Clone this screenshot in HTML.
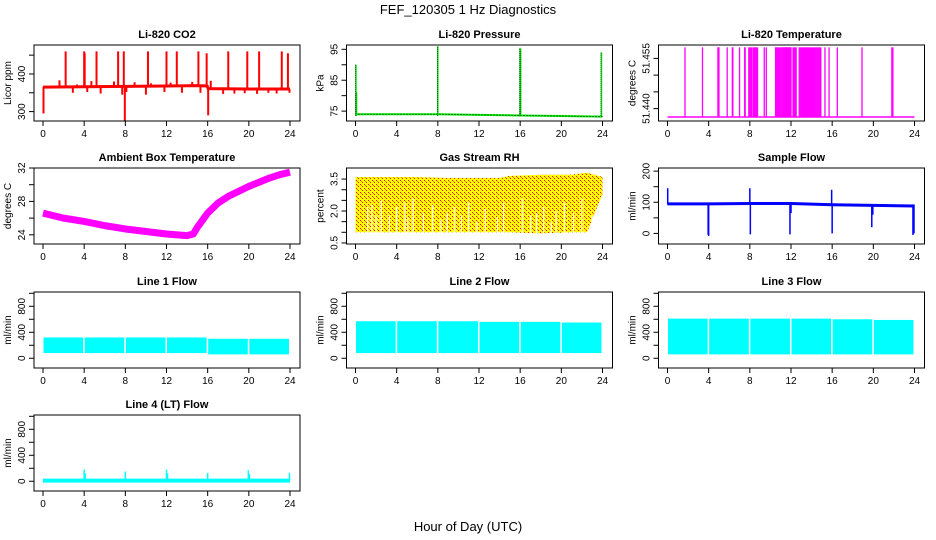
<!DOCTYPE html>
<html><head><meta charset="utf-8">
<style>
html,body{margin:0;padding:0;background:#fff;}
svg{display:block;font-family:"Liberation Sans",sans-serif;}
</style></head>
<body>
<svg id="chart" width="936" height="540" viewBox="0 0 936 540" xmlns="http://www.w3.org/2000/svg">
<defs>
<pattern id="rhpat" width="4" height="4" patternUnits="userSpaceOnUse">
<rect width="4" height="4" fill="#ffff00"/>
<rect x="0" y="0" width="1" height="1" fill="#ff0000"/>
<rect x="2" y="2" width="1" height="1" fill="#ff0000"/>
<rect x="1" y="1" width="1" height="1" fill="#e08000"/>
</pattern>
</defs>
<text x="468" y="14" text-anchor="middle" font-size="13">FEF_120305  1 Hz Diagnostics</text>
<text x="468" y="531" text-anchor="middle" font-size="13">Hour of Day (UTC)</text>
</svg>
<script>
// ---- data arrays ----
const xTicks=[0,4,8,12,16,20,24];
const co2BaseHours=[0,4,8,12,15,15.95,16.05,20,24];
const co2BaseVals=[365,366,367,368,369,368,361,360,360];
const co2SpikeHours=[0.05,2.2,4.0,4.05,5.2,7.3,7.85,7.95,10.2,12.0,13.0,15.1,15.9,16.05,18.0,19.85,21.0,23.2,23.8,1.6,2.9,3.3,4.3,4.7,5.6,6.9,7.7,8.1,8.9,10.0,10.5,11.8,12.4,13.5,14.5,15.3,16.3,17.5,18.6,19.6,20.8,21.9,22.7,23.95];
const co2SpikeVals=[295,460,460,455,460,460,460,275,460,460,460,460,455,290,460,460,460,460,455,383,350,372,352,381,348,380,345,352,378,345,375,352,377,350,379,350,382,347,348,349,347,350,348,350];
const presBaseHours=[0,4,8,12,16,20,24];
const presBaseVals=[74.0,74.0,74.0,73.8,73.6,73.4,73.2];
const presSpikeHours=[0.05,0.1,8.0,16.0,16.05,23.9];
const presSpikeVals=[90,81,96,95.5,95,94];
const tempLow=51.4375, tempHigh=51.4583;
const tempSpikeHours=[1.7,3.4,4.9,4.95,5.0,5.8,6.3,6.35,7.0,7.5,7.55,7.9,8.0,8.1,8.2,8.35,8.45,8.55,8.65,8.75,9.4,9.6,10.5,10.55,10.6,10.7,10.8,10.9,11.0,11.1,11.2,11.25,11.3,11.35,11.4,11.45,11.5,11.55,11.6,11.65,11.7,11.75,11.8,11.85,11.9,11.95,12.0,12.2,12.3,12.4,12.5,12.8,12.9,13.0,13.05,13.1,13.2,13.3,13.35,13.4,13.5,13.6,13.65,13.7,13.8,13.9,14.0,14.1,14.2,14.3,14.4,14.5,14.6,14.7,14.8,14.9,15.3,15.7,16.5,18.9,21.8,21.9];
const ambHours=[0,2,4,6,8,10,12,14,14.6,15,16,17,18,19,20,21,22,23,24];
const ambVals=[26.6,26.0,25.6,25.1,24.7,24.4,24.1,23.9,24.1,24.9,26.6,27.8,28.6,29.2,29.8,30.3,30.8,31.2,31.5];
const rhHours=[0,3,6,9,12,14,15,18,21,22.5,24];
const rhTop=[3.6,3.6,3.6,3.55,3.55,3.55,3.65,3.7,3.7,3.8,3.6];
const rhBottom=[1.0,1.0,1.0,1.0,1.0,1.0,1.0,0.95,1.0,1.0,2.8];
const rhGapHours=[1.2,1.6,2.0,2.5,3.3,4.0,4.8,5.1,5.6,6.6,7.5,8.3,8.9,9.6,10.3,11.0,11.8,12.6,13.8,14.4,16.2,17.0,17.6,18.3,19.0,19.5,20.3,21.2,22.0,23.0];
const rhGapTops=[2.2,2.3,1.8,2.5,1.8,2.2,2.4,1.7,2.6,1.9,2.3,1.6,1.9,2.2,1.8,2.4,1.5,2.1,1.7,2.4,2.6,1.8,1.9,2.2,1.5,2.0,2.4,1.9,2.6,1.8];
const sfBaseHours=[0,4,8,12,16,20,24];
const sfBaseVals=[95,95,96,96,92,90,88];
const sfSpikeHours=[0.02,3.95,4.0,8.0,8.05,11.9,12.0,15.95,16.0,19.85,19.95,23.85,23.95];
const sfSpikeVals=[145,-5,-8,145,-3,-3,65,140,0,20,60,-5,0];
const flowGapHours=[4,8,12,16,20];
const l1Top=[320,320,320,320,300,300];
const l1Bottom=[80,80,80,80,60,60];
const l2Top=[570,570,570,560,560,550];
const l2Bottom=[80,80,80,80,80,80];
const l3Top=[610,610,610,610,600,590];
const l3Bottom=[60,60,60,60,60,60];
const flowSegHours=[0,4,8,12,16,20,24];
const l4Base=10;
const l4SpikeHours=[4.0,4.1,8.0,12.0,12.1,16.0,19.95,20.05,23.95];
const l4SpikeVals=[180,120,150,180,120,130,170,110,130];

// ---- layout ----
const svg=document.getElementById('chart');
const NS='http://www.w3.org/2000/svg';
const colX0=[43,355.5,667.5];
const rowTop=[45,168,292,415];
const boxH=76;
function el(tag,attrs,parent){const e=document.createElementNS(NS,tag);for(const k in attrs)e.setAttribute(k,attrs[k]);(parent||svg).appendChild(e);return e;}

function makePanel(name,col,row,title,ylab,ylim,ticks,labels){
  const g=el('g',{});
  
  
  const x0=colX0[col],top=rowTop[row],bot=top+boxH,left=x0-9,right=x0+257;
  const sx=h=>x0+h*(247/24);
  const sy=v=>bot-(v-ylim[0])/(ylim[1]-ylim[0])*boxH;
  const plot=el('g',{},g);
  
  
  const box=el('rect',{x:left,y:top,width:right-left,height:boxH,fill:'none',stroke:'#000','stroke-width':1},g);
  
  
  const t=el('text',{x:(left+right)/2,y:top-7,'text-anchor':'middle','font-size':11,'font-weight':'bold'},g);
  t.textContent=title;
  
  
  const xa=el('g',{},g);
  
  
  el('line',{x1:sx(0),x2:sx(24),y1:bot,y2:bot,stroke:'#000'},xa);
  xTicks.forEach(h=>{
    el('line',{x1:sx(h),x2:sx(h),y1:bot,y2:bot+5,stroke:'#000'},xa);
    const l=el('text',{x:sx(h),y:bot+16,'text-anchor':'middle','font-size':10},xa);
    l.textContent=h;
    
    
  });
  const ya=el('g',{},g);
  
  
  el('line',{x1:left,x2:left,y1:sy(ticks[0]),y2:sy(ticks[ticks.length-1]),stroke:'#000'},ya);
  ticks.forEach(v=>{el('line',{x1:left-5,x2:left,y1:sy(v),y2:sy(v),stroke:'#000'},ya);});
  labels.forEach(v=>{
    const yy=sy(Number(v));
    const l=el('text',{x:left-9,y:yy,'text-anchor':'middle','font-size':10,transform:`rotate(-90 ${left-9} ${yy})`},ya);
    l.textContent=v;
    
    
  });
  const yt=el('text',{x:left-23,y:(top+bot)/2,'text-anchor':'middle','font-size':10,transform:`rotate(-90 ${left-23} ${(top+bot)/2})`},g);
  yt.textContent=ylab;
  
  
  return {g:plot,sx,sy};
}
function poly(p,hours,vals,attrs){
  return el('polyline',Object.assign({points:hours.map((h,i)=>p.sx(h)+','+p.sy(vals[i])).join(' '),fill:'none'},attrs),p.g);
}
function band(p,hours,top,bottom,fill){
  const pts=hours.map((h,i)=>p.sx(h)+','+p.sy(top[i])).concat(hours.slice().reverse().map((h,j)=>{const i=hours.length-1-j;return p.sx(h)+','+p.sy(bottom[i]);}));
  return el('polygon',{points:pts.join(' '),fill:fill,stroke:'none'},p.g);
}

// CO2
let p=makePanel('co2',0,0,'Li-820 CO2','Licor ppm',[275,477],[300,350,400,450],['300','400']);
let m=poly(p,co2BaseHours,co2BaseVals,{stroke:'#ff0000','stroke-width':3});


co2SpikeHours.forEach((h,i)=>{
  const base=h<16?366:360;
  const s=el('line',{x1:p.sx(h),x2:p.sx(h),y1:p.sy(base),y2:p.sy(co2SpikeVals[i]),stroke:'#ff0000','stroke-width':2},p.g);
  
  
});

// Pressure
p=makePanel('pressure',1,0,'Li-820 Pressure','kPa',[71.8,96.4],[75,80,85,90,95],['75','85','95']);
m=poly(p,presBaseHours,presBaseVals,{stroke:'#00ee00','stroke-width':2});


poly(p,presBaseHours,presBaseVals,{stroke:'#000','stroke-width':1,'stroke-dasharray':'1 2'});
presSpikeHours.forEach((h,i)=>{
  const s=el('line',{x1:p.sx(h),x2:p.sx(h),y1:p.sy(73.5),y2:p.sy(presSpikeVals[i]),stroke:'#00ee00','stroke-width':1.5},p.g);
  
  
  el('line',{x1:p.sx(h)-0.5,x2:p.sx(h)-0.5,y1:p.sy(73.5),y2:p.sy(presSpikeVals[i]),stroke:'#000','stroke-width':0.7,'stroke-dasharray':'1 1'},p.g);
});

// Temperature
p=makePanel('li820-temp',2,0,'Li-820 Temperature','degrees C',[51.4363,51.459],[51.440,51.445,51.450,51.455],['51.440','51.455']);
m=el('line',{x1:p.sx(0),x2:p.sx(24),y1:p.sy(tempLow),y2:p.sy(tempLow),stroke:'#ff00ff','stroke-width':1.5},p.g);


tempSpikeHours.forEach(h=>{
  const s=el('line',{x1:p.sx(h),x2:p.sx(h),y1:p.sy(tempLow),y2:p.sy(tempHigh),stroke:'#ff00ff','stroke-width':1.3},p.g);
  
  
});

// Ambient
p=makePanel('ambient',0,1,'Ambient Box Temperature','degrees C',[22.9,32.0],[24,26,28,30,32],['24','28','32']);
m=poly(p,ambHours,ambVals,{stroke:'#ff00ff','stroke-width':7,'stroke-linejoin':'round'});



// RH
p=makePanel('rh',1,1,'Gas Stream RH','percent',[0.45,4.02],[0.5,1.0,1.5,2.0,2.5,3.0,3.5],['0.5','2.0','3.5']);
m=band(p,rhHours,rhTop,rhBottom,'url(#rhpat)');


rhGapHours.forEach((h,i)=>{
  const s=el('line',{x1:p.sx(h),x2:p.sx(h),y1:p.sy(0.9),y2:p.sy(rhGapTops[i]),stroke:'#fff','stroke-width':1.2},p.g);
  
  
});

// Sample flow
p=makePanel('sample-flow',2,1,'Sample Flow','ml/min',[-34,210],[0,50,100,150,200],['0','100','200']);
m=poly(p,sfBaseHours,sfBaseVals,{stroke:'#0000ff','stroke-width':3});


sfSpikeHours.forEach((h,i)=>{
  const s=el('line',{x1:p.sx(h),x2:p.sx(h),y1:p.sy(93),y2:p.sy(sfSpikeVals[i]),stroke:'#0000ff','stroke-width':1.5},p.g);
  
  
});

// Line flows
const fl=[[0,2,'line1','Line 1 Flow',l1Top,l1Bottom],[1,2,'line2','Line 2 Flow',l2Top,l2Bottom],[2,2,'line3','Line 3 Flow',l3Top,l3Bottom]];
fl.forEach(f=>{
  const q=makePanel(f[2]+'-flow',f[0],f[1],f[3],'ml/min',[-150,1020],[0,200,400,600,800,1000],['0','400','800']);
  for(let i=0;i<flowSegHours.length-1;i++){
    const h0=flowSegHours[i]+0.05,h1=flowSegHours[i+1]-0.1;
    const r=el('rect',{x:q.sx(h0),y:q.sy(f[4][i]),width:q.sx(h1)-q.sx(h0),height:q.sy(f[5][i])-q.sy(f[4][i]),fill:'#00ffff'},q.g);
    
    
  }
});

// Line 4
p=makePanel('line4-flow',0,3,'Line 4 (LT) Flow','ml/min',[-150,1020],[0,200,400,600,800,1000],['0','400','800']);
m=el('rect',{x:p.sx(0),y:p.sy(l4Base)-2,width:p.sx(24)-p.sx(0),height:4,fill:'#00ffff'},p.g);


l4SpikeHours.forEach((h,i)=>{
  const s=el('line',{x1:p.sx(h),x2:p.sx(h),y1:p.sy(l4Base),y2:p.sy(l4SpikeVals[i]),stroke:'#00ffff','stroke-width':1.5},p.g);
  
  
});
</script>
</body></html>
